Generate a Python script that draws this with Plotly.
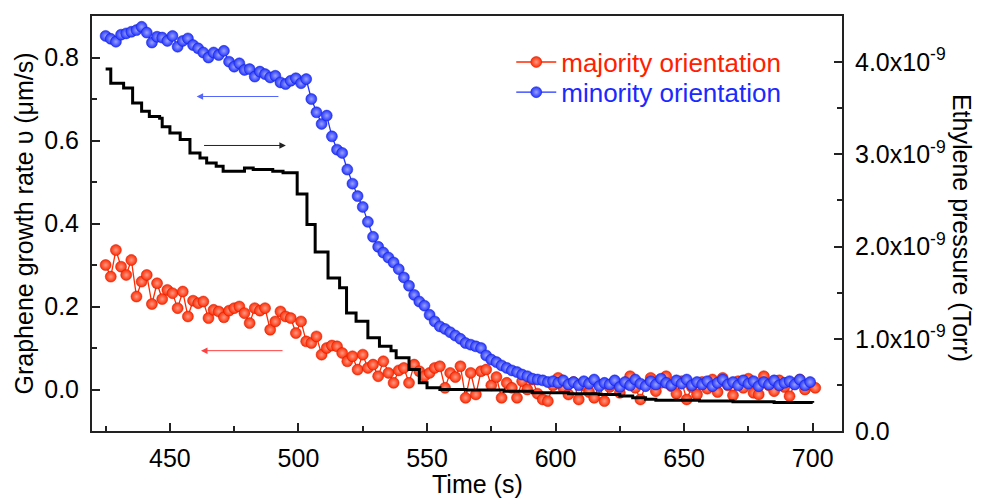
import plotly.graph_objects as go

# ---------------- data ----------------
majority_rate = [
    0.300, 0.272, 0.336, 0.296, 0.276, 0.312, 0.224, 0.260, 0.276, 0.206,
    0.256, 0.218, 0.240, 0.232, 0.196, 0.236, 0.176, 0.214, 0.208, 0.212,
    0.172, 0.192, 0.188, 0.174, 0.190, 0.196, 0.200, 0.184, 0.160, 0.196,
    0.190, 0.196, 0.144, 0.164, 0.188, 0.176, 0.172, 0.136, 0.164, 0.116,
    0.112, 0.128, 0.084, 0.100, 0.106, 0.104, 0.088, 0.068, 0.080, 0.048,
    0.084, 0.052, 0.060, 0.032, 0.068, 0.040, 0.016, 0.046, 0.052, 0.016,
    0.060, 0.044, 0.032, 0.040, 0.052, 0.056, 0.004, 0.040, 0.030, 0.056,
    -0.020, 0.040, -0.012, 0.044, 0.048, 0.010, 0.030, -0.020, 0.016, 0.004,
    -0.020, 0.020, 0.000, 0.024, -0.010, -0.024, -0.028, 0.010, 0.028, 0.004,
    -0.012, 0.018, -0.024, 0.010, -0.006, -0.020, 0.012, -0.028, 0.006, 0.020,
    -0.008, 0.014, 0.032, 0.004, -0.024, 0.010, 0.028, -0.004, 0.016, 0.032,
    0.008, -0.010, 0.020, -0.024, 0.006, -0.012, 0.018, 0.002, 0.024, -0.006,
    0.028, 0.010, -0.014, 0.020, 0.004, 0.026, -0.008, -0.012, 0.032, 0.010,
    -0.004, 0.022, 0.006, -0.016, 0.014, 0.024, 0.000, 0.012, 0.004,
]
majority_time = list(range(425, 425 + 2 * len(majority_rate), 2))

minority_rate = [
    0.852, 0.845, 0.838, 0.855, 0.858, 0.862, 0.866, 0.874, 0.860, 0.836,
    0.850, 0.848, 0.840, 0.852, 0.826, 0.840, 0.846, 0.830, 0.822, 0.812,
    0.800, 0.812, 0.806, 0.816, 0.790, 0.778, 0.786, 0.770, 0.772, 0.754,
    0.766, 0.760, 0.752, 0.756, 0.740, 0.736, 0.744, 0.750, 0.738, 0.748,
    0.700, 0.668, 0.640, 0.660, 0.610, 0.578, 0.570, 0.530, 0.496, 0.466,
    0.440, 0.404, 0.368, 0.344, 0.330, 0.318, 0.306, 0.290, 0.270, 0.250,
    0.228, 0.212, 0.202, 0.180, 0.164, 0.152, 0.146, 0.138, 0.130, 0.122,
    0.112, 0.108, 0.104, 0.100, 0.082, 0.072, 0.066, 0.058, 0.052, 0.046,
    0.042, 0.036, 0.032, 0.026, 0.024, 0.022, 0.018, 0.020,
    0.016, 0.022, 0.012, 0.018, 0.010, 0.020, 0.014, 0.024, 0.008, 0.016,
    0.012, 0.022, 0.006, 0.018, 0.010, 0.024, 0.014, 0.008, 0.020, 0.012,
    0.026, 0.016, 0.010, 0.022, 0.014, 0.024, 0.010, 0.018, 0.012, 0.020,
    0.008, 0.016, 0.024, 0.012, 0.018, 0.010, 0.022, 0.014, 0.020, 0.008,
    0.018, 0.012, 0.022, 0.010, 0.016, 0.020, 0.012, 0.024, 0.010, 0.018,
]
minority_time = list(range(425, 425 + 2 * len(minority_rate), 2))

pressure_time = [
    425, 427, 432, 435.5, 439, 442, 446, 447, 450, 454, 457.8, 461.7, 464.3,
    468, 470.7, 479, 482.4, 490, 494, 499.5, 503.3, 506.5, 511.5, 516, 518.7,
    522.4, 527, 531.5, 536, 538, 543, 547, 550, 555, 565, 580, 591, 605, 617,
    625, 630, 635, 639, 656, 669, 685, 700,
]
pressure_torr = [
    3.925e-9, 3.77e-9, 3.72e-9, 3.557e-9, 3.467e-9, 3.41e-9, 3.39e-9, 3.30e-9,
    3.23e-9, 3.16e-9, 3.015e-9, 2.96e-9, 2.907e-9, 2.87e-9, 2.817e-9, 2.853e-9,
    2.835e-9, 2.817e-9, 2.80e-9, 2.57e-9, 2.24e-9, 1.94e-9, 1.66e-9, 1.553e-9,
    1.28e-9, 1.19e-9, 1.01e-9, 0.92e-9, 0.87e-9, 0.794e-9, 0.668e-9, 0.523e-9,
    0.469e-9, 0.45e-9, 0.445e-9, 0.43e-9, 0.415e-9, 0.405e-9, 0.397e-9,
    0.38e-9, 0.36e-9, 0.345e-9, 0.333e-9, 0.325e-9, 0.317e-9, 0.31e-9, 0.307e-9,
]

left_ticks = [0.0, 0.2, 0.4, 0.6, 0.8]
right_tickvals = [0.0, 1e-9, 2e-9, 3e-9, 4e-9]
right_ticktext = ["0.0", "1.0x10<sup>-9</sup>", "2.0x10<sup>-9</sup>",
                  "3.0x10<sup>-9</sup>", "4.0x10<sup>-9</sup>"]
right_minor = [0.5e-9, 1.5e-9, 2.5e-9, 3.5e-9]

RED = "#ff2a00"
BLUE = "#2233ff"
FONT = "Arial, Liberation Sans, sans-serif"

fig = go.Figure()

fig.add_trace(go.Scatter(
    x=majority_time, y=majority_rate, mode="lines+markers",
    name='<span style="color:#ff2000">majority orientation</span>',
    legend="legend",
    line=dict(color=RED, width=1.3),
    marker=dict(size=11, color=RED, line=dict(width=0.5, color="#d01800"),
                gradient=dict(type="radial", color="#ff9a85")),
))
fig.add_trace(go.Scatter(
    x=minority_time, y=minority_rate, mode="lines+markers",
    name='<span style="color:#1a2aff">minority orientation</span>',
    legend="legend2",
    line=dict(color=BLUE, width=1.3),
    marker=dict(size=11, color=BLUE, line=dict(width=0.5, color="#1020d0"),
                gradient=dict(type="radial", color="#9aa2ff")),
))
fig.add_trace(go.Scatter(
    x=pressure_time, y=pressure_torr, mode="lines", yaxis="y2",
    line=dict(color="black", width=3, shape="hv"), showlegend=False,
))

axis_common = dict(
    showline=True, linecolor="#222", linewidth=2, ticks="inside",
    tickcolor="#222", tickwidth=1.5, ticklen=8, showgrid=False, zeroline=False,
    tickfont=dict(family=FONT, size=25, color="black"),
)

legend_common = dict(xanchor="left", yanchor="top", bgcolor="rgba(0,0,0,0)",
                     font=dict(family=FONT, size=26), itemwidth=40)

# page body adds an 8px margin: compensate so the plot box lands at 92..842 x 14..431
fig.update_layout(
    width=973, height=496,
    margin=dict(l=84, r=139, t=6, b=73),
    paper_bgcolor="white", plot_bgcolor="white",
    font=dict(family=FONT, color="black"),
    xaxis=dict(**axis_common, range=[419.7, 711.4], tick0=450, dtick=50,
               mirror=True, ticklabelstandoff=4,
               minor=dict(ticks="inside", dtick=25, tick0=425, ticklen=5,
                          tickcolor="#222", tickwidth=1.5)),
    yaxis=dict(**axis_common, range=[-0.1, 0.9], tickvals=left_ticks,
               tickformat=".1f", ticklabelstandoff=6,
               minor=dict(ticks="inside", dtick=0.1, tick0=0.1, ticklen=5,
                          tickcolor="#222", tickwidth=1.5)),
    yaxis2=dict(**axis_common, range=[0, 4.5e-9], overlaying="y", side="right",
                tickmode="array", tickvals=right_tickvals,
                ticktext=right_ticktext, ticklabelstandoff=6,
                minor=dict(ticks="inside", tickvals=right_minor, ticklen=5,
                           tickcolor="#222", tickwidth=1.5)),
    legend=dict(**legend_common, x=0.559, y=0.9456),
    legend2=dict(**legend_common, x=0.559, y=0.8729),
    showlegend=True,
)

annotations = [
    dict(text="Graphene growth rate υ (μm/s)", xref="paper", yref="paper",
         x=-0.092, y=0.5, textangle=-90, showarrow=False,
         font=dict(family=FONT, size=25, color="black"),
         xanchor="center", yanchor="middle"),
    dict(text="Ethylene pressure (Torr)", xref="paper", yref="paper",
         x=1.161, y=0.49, textangle=90, showarrow=False,
         font=dict(family=FONT, size=25, color="black"),
         xanchor="center", yanchor="middle"),
    dict(text="Time (s)", xref="paper", yref="paper",
         x=0.514, y=-0.127, showarrow=False,
         font=dict(family=FONT, size=25, color="black"),
         xanchor="center", yanchor="middle"),
    # arrows
    dict(x=460.4, y=0.706, ax=492.8, ay=0.706, xref="x", yref="y",
         axref="x", ayref="y", text="", showarrow=True, arrowhead=2,
         arrowsize=1.3, arrowwidth=1, arrowcolor="#5566ff", standoff=0),
    dict(x=495.1, y=0.588, ax=462.7, ay=0.588, xref="x", yref="y",
         axref="x", ayref="y", text="", showarrow=True, arrowhead=2,
         arrowsize=1.3, arrowwidth=1, arrowcolor="#222", standoff=0),
    dict(x=462.1, y=0.0936, ax=494.4, ay=0.0936, xref="x", yref="y",
         axref="x", ayref="y", text="", showarrow=True, arrowhead=2,
         arrowsize=1.3, arrowwidth=1, arrowcolor="#ff4040", standoff=0),
]
fig.update_layout(annotations=annotations)

fig.write_html("out.html")
